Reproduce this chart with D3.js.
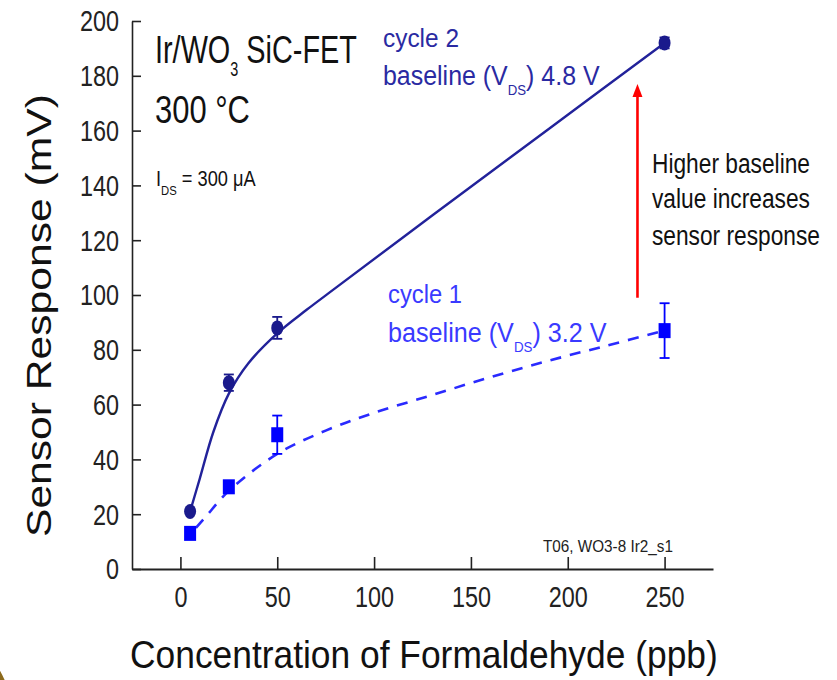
<!DOCTYPE html>
<html><head><meta charset="utf-8">
<script src="https://cdn.jsdelivr.net/npm/d3@7"></script>
<style>body{margin:0;background:#fff}svg{display:block}</style>
</head><body>
<svg id="chart" width="837" height="680"></svg>
<script>
// ---------- data ----------
const concentration = [5, 25, 50, 250];
const cycle2Response = [21, 68, 88, 192];
const cycle2Error = [0, 3, 4, 2];
const cycle1Response = [13, 30, 49, 87];
const cycle1Error = [0, 0, 7, 10];
// fitted curves
const cycle2FitX = [5, 10, 17, 25, 35, 50, 65, 80, 130, 190, 250];
const cycle2FitY = [21, 33, 50, 64, 75, 86, 94.5, 102.5, 129, 160.5, 192];
const cycle1FitX = [8, 13, 25, 50, 75, 100, 130, 160, 190, 220, 250];
const cycle1FitY = [15, 19, 28.5, 42, 50.5, 57, 63.5, 70, 76, 81.5, 87];
const xTicks = [0, 50, 100, 150, 200, 250];
const xMinorTicks = [-25, 25, 75, 125, 175, 225, 275];
const yTicks = [0, 20, 40, 60, 80, 100, 120, 140, 160, 180, 200];
const yMinorTicks = [10, 30, 50, 70, 90, 110, 130, 150, 170, 190];
const arrowAt = [236];          // ppb
const arrowRange = [99, 177];   // mV

// ---------- setup ----------
const FONT = "'Liberation Sans', Arial, Helvetica, sans-serif";
const NAVY = "#1a1a8c", BLUE = "#0000ff";
const svg = d3.select("#chart");
svg.append("rect").attr("width", 837).attr("height", 680).attr("fill", "#fff");
// slide decoration in the corner
svg.append("circle").attr("cx", -87).attr("cy", 720).attr("r", 100).attr("fill", "#8c6a1c");

const x = d3.scaleLinear().domain([-25, 275]).range([132, 713]);
const y = d3.scaleLinear().domain([0, 200]).range([569, 21]);

function addText(parent, o) {
  const g = parent.append("g").attr("transform", `translate(${o.x},${o.y})` + (o.rotate ? ` rotate(${o.rotate})` : ""));
  const t = g.append("text").attr("font-family", FONT).attr("font-size", o.size)
    .attr("fill", o.fill || "#111").attr("text-anchor", o.anchor || "start");
  let shift = 0;
  o.parts.forEach(p => {
    const s = typeof p === "string" ? { t: p } : p;
    const ts = t.append("tspan").text(s.t);
    const want = s.sub ? o.size * (s.shift || 0.3) : 0;
    if (want !== shift) { ts.attr("dy", want - shift); shift = want; }
    if (s.sub) ts.attr("font-size", o.size * (s.scale || 0.6));
  });
  let sx = o.sx || 1;
  if (o.width) { const w = t.node().getBBox().width; sx = o.width / w; }
  t.attr("transform", `scale(${sx},1)`);
  return t;
}

// ---------- axes ----------
const TICK_SX = 0.78;
const gx = svg.append("g").attr("transform", `translate(0,${y(0)})`);
gx.call(d3.axisBottom(x).tickValues(xMinorTicks).tickSize(-7).tickSizeOuter(0).tickFormat(""));
gx.call(d3.axisBottom(x).tickValues(xTicks).tickSize(-12).tickSizeOuter(0).tickFormat(d3.format("d")));
gx.selectAll("path.domain").attr("stroke", "#222").attr("stroke-width", 2);
gx.selectAll(".tick line").attr("stroke", "#222").attr("stroke-width", 1.6);
gx.attr("font-family", null).attr("font-size", null);
gx.selectAll(".tick text").attr("font-family", FONT).attr("font-size", 30).attr("fill", "#222")
  .attr("y", 38).attr("dy", 0).attr("transform", `scale(${TICK_SX},1)`);

const gy = svg.append("g").attr("transform", `translate(${x(-25)},0)`);
gy.call(d3.axisLeft(y).tickValues(yMinorTicks).tickSize(-5).tickSizeOuter(0).tickFormat(""));
gy.call(d3.axisLeft(y).tickValues(yTicks).tickSize(-9).tickSizeOuter(0).tickFormat(d3.format("d")));
gy.selectAll("path.domain").attr("stroke", "#222").attr("stroke-width", 1.6);
gy.selectAll(".tick line").attr("stroke", "#222").attr("stroke-width", 1.6);
gy.attr("font-family", null).attr("font-size", null);
gy.selectAll(".tick text").attr("font-family", FONT).attr("font-size", 30).attr("fill", "#222")
  .attr("x", -13 / TICK_SX).attr("dy", "0.33em").attr("transform", `scale(${TICK_SX},1)`);

// axis titles
addText(svg, { x: 130, y: 668, size: 39, width: 588, parts: ["Concentration of Formaldehyde (ppb)"] });
addText(svg, { x: 51, y: 537, size: 36, width: 443, rotate: -90, parts: ["Sensor Response (mV)"] });

// ---------- curves ----------
const line = d3.line().x(d => x(d[0])).y(d => y(d[1])).curve(d3.curveCatmullRom.alpha(0.5));
const plot = svg.append("g");
plot.append("path").datum(cycle2FitX.map((v, i) => [v, cycle2FitY[i]]))
  .attr("d", line).attr("fill", "none").attr("stroke", "#22229a").attr("stroke-width", 2.4);
plot.append("path").datum(cycle1FitX.map((v, i) => [v, cycle1FitY[i]]))
  .attr("d", line).attr("fill", "none").attr("stroke", "#2a2aff").attr("stroke-width", 2.6)
  .attr("stroke-dasharray", "11,9");

// error bars
function errorBars(vals, errs, color) {
  const d = concentration.map((c, i) => ({ c, v: vals[i], e: errs[i] })).filter(o => o.e > 0);
  const g = plot.append("g").attr("stroke", color).attr("stroke-width", 1.8);
  g.selectAll("line.v").data(d).join("line").attr("x1", o => x(o.c)).attr("x2", o => x(o.c))
    .attr("y1", o => y(o.v - o.e)).attr("y2", o => y(o.v + o.e));
  [-1, 1].forEach(s => {
    g.selectAll("line.c" + s).data(d).join("line").attr("x1", o => x(o.c) - 5).attr("x2", o => x(o.c) + 5)
      .attr("y1", o => y(o.v + s * o.e)).attr("y2", o => y(o.v + s * o.e));
  });
}
errorBars(cycle2Response, cycle2Error, NAVY);
errorBars(cycle1Response, cycle1Error, BLUE);

// markers
plot.append("g").selectAll("ellipse").data(concentration).join("ellipse")
  .attr("cx", d => x(d)).attr("cy", (d, i) => y(cycle2Response[i])).attr("rx", 6).attr("ry", 7.5).attr("fill", NAVY);
plot.append("g").selectAll("rect").data(concentration).join("rect")
  .attr("x", d => x(d) - 6).attr("y", (d, i) => y(cycle1Response[i]) - 7.5).attr("width", 12).attr("height", 15).attr("fill", BLUE);

// red arrow
const ax = x(arrowAt[0]), ay0 = y(arrowRange[0]), ay1 = y(arrowRange[1]);
svg.append("line").attr("x1", ax).attr("x2", ax).attr("y1", ay0).attr("y2", ay1 + 10)
  .attr("stroke", "#ff0000").attr("stroke-width", 2.6);
svg.append("path").attr("d", `M${ax},${ay1} L${ax - 5},${ay1 + 13} L${ax + 5},${ay1 + 13} Z`).attr("fill", "#ff0000");

// ---------- annotations ----------
addText(svg, { x: 155, y: 63, size: 39, width: 202, parts: ["Ir/WO", { t: "3", sub: true, shift: 0.33, scale: 0.5 }, " SiC-FET"] });
addText(svg, { x: 155, y: 123, size: 39, width: 95, parts: ["300 °C"] });
addText(svg, { x: 156, y: 186, size: 22, width: 100, parts: ["I", { t: "DS", sub: true, shift: 0.42, scale: 0.62 }, " = 300 μA"] });

const NAVY_T = "#2a2aa2", BLUE_T = "#3a3aff";
addText(svg, { x: 383, y: 47, size: 25, width: 76, fill: NAVY_T, parts: ["cycle 2"] });
addText(svg, { x: 383, y: 85, size: 28, width: 217, fill: NAVY_T, parts: ["baseline (V", { t: "DS", sub: true, shift: 0.36, scale: 0.53 }, ") 4.8 V"] });
addText(svg, { x: 388, y: 303, size: 25, width: 74, fill: BLUE_T, parts: ["cycle 1"] });
addText(svg, { x: 388, y: 342, size: 28, width: 219, fill: BLUE_T, parts: ["baseline (V", { t: "DS", sub: true, shift: 0.36, scale: 0.53 }, ") 3.2 V"] });

addText(svg, { x: 652, y: 173, size: 28, width: 158, parts: ["Higher baseline"] });
addText(svg, { x: 652, y: 208, size: 28, width: 158, parts: ["value increases"] });
addText(svg, { x: 652, y: 245, size: 28, width: 168, parts: ["sensor response"] });

addText(svg, { x: 543, y: 552, size: 17, width: 130, fill: "#222", parts: ["T06, WO3-8 Ir2_s1"] });
</script>
</body></html>
